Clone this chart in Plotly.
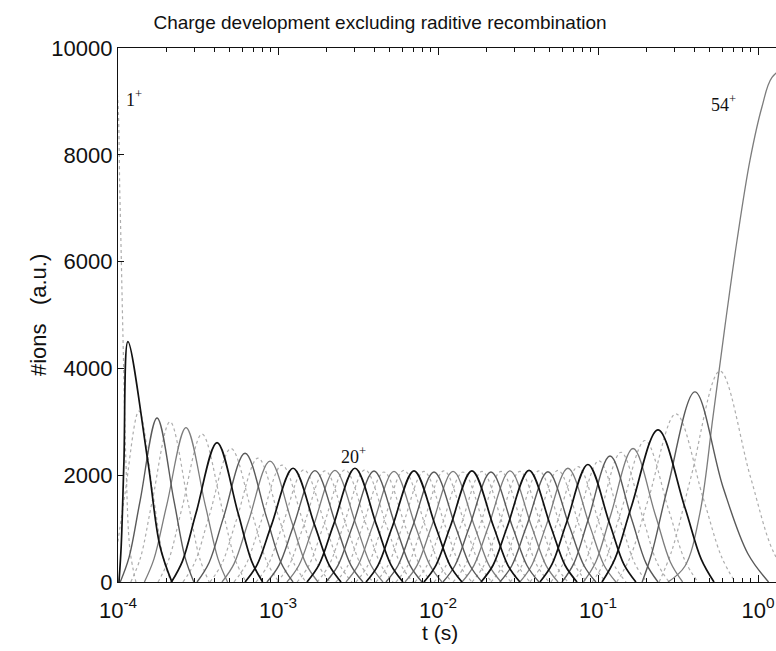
import plotly.graph_objects as go

# ---------------- data ----------------
# charge state 1+ : decaying curve at the far left (log10 t, ions)
q1_logt = [-4.04, -4.006, -3.988, -3.969, -3.95, -3.925, -3.888]
q1_ions = [9800, 9200, 7200, 4600, 2200, 600, 0]

# charge states 2+ .. 53+ : peaked curves
peak_logt = [-3.938, -3.869, -3.756, -3.675, -3.575, -3.475, -3.381, -3.294, -3.206, -3.125,
             -3.050, -2.975, -2.906, -2.838, -2.769, -2.706, -2.644, -2.581, -2.519, -2.456,
             -2.400, -2.338, -2.275, -2.213, -2.150, -2.088, -2.025, -1.963, -1.906, -1.844,
             -1.788, -1.725, -1.669, -1.606, -1.550, -1.488, -1.431, -1.369, -1.313, -1.250,
             -1.188, -1.125, -1.063, -0.994, -0.925, -0.856, -0.781, -0.706, -0.625, -0.513,
             -0.394, -0.238]
peak_ions = [4500, 3200, 3070, 3000, 2890, 2770, 2610, 2500, 2410, 2320, 2265, 2190,
             2130, 2100, 2085, 2080, 2090, 2100, 2130, 2100, 2080, 2060,
             2070, 2090, 2080, 2070, 2060, 2080, 2070, 2060, 2080, 2070,
             2060, 2070, 2080, 2070, 2090, 2080, 2065, 2090, 2130, 2160,
             2200, 2270, 2360, 2430, 2500, 2650, 2850, 3150, 3560, 3950]
# distance from the peak (decades) where a curve is at half its height
half_left = [0.025, 0.09, 0.105, 0.112, 0.12, 0.125, 0.13] + [0.135] * 39 + [0.14, 0.15, 0.165, 0.17, 0.17, 0.18]
half_right = [0.125, 0.09, 0.105, 0.112, 0.12, 0.125, 0.13] + [0.135] * 39 + [0.14, 0.15, 0.165, 0.17, 0.175, 0.19]
# distance from the peak (decades) where a curve is at ~15 % of its height
tail_left = [0.042, 0.15, 0.175, 0.185, 0.2, 0.208, 0.216] + [0.225] * 39 + [0.233, 0.25, 0.27, 0.285, 0.27, 0.3]
tail_right = [0.2, 0.15, 0.175, 0.185, 0.2, 0.208, 0.216] + [0.225] * 39 + [0.233, 0.25, 0.27, 0.285, 0.33, 0.33]
# distance from the peak (decades) where a curve reaches zero
foot_left = [0.056, 0.2, 0.23, 0.245, 0.26, 0.275, 0.285] + [0.3] * 39 + [0.31, 0.33, 0.35, 0.37, 0.33, 0.38]
foot_right = [0.275, 0.2, 0.23, 0.245, 0.26, 0.275, 0.285] + [0.3] * 39 + [0.31, 0.33, 0.35, 0.37, 0.46, 0.45]

# charge state 54+ : rising curve at the far right
q54_logt = [-0.5625, -0.456, -0.3625, -0.281, -0.206, -0.131, -0.05, 0.025, 0.0875, 0.2]
q54_ions = [0, 300, 1300, 3100, 4800, 6400, 7900, 8900, 9450, 9700]

x_tick_vals = [1e-4, 1e-3, 1e-2, 1e-1, 1]
x_tick_text = ["10<sup>-4</sup>", "10<sup>-3</sup>", "10<sup>-2</sup>", "10<sup>-1</sup>", "10<sup>0</sup>"]
y_tick_vals = [0, 2000, 4000, 6000, 8000, 10000]
y_tick_text = ["0", "2000", "4000", "6000", "8000", "10000"]

# ---------------- styles ----------------
style_codes = "l" + "klglml" * 8 + "klglm"   # one letter per charge state 1+..54+
STYLES = {
    "k": dict(color="#111111", width=1.7, dash="solid"),
    "g": dict(color="#595959", width=1.4, dash="solid"),
    "m": dict(color="#7c7c7c", width=1.3, dash="solid"),
    "l": dict(color="#adadad", width=1.2, dash="dot"),
}
DRAW_ORDER = ["l", "m", "g", "k"]

curves = []  # (charge, logt list, ions list)
curves.append((1, q1_logt, q1_ions))
for i, (p, h) in enumerate(zip(peak_logt, peak_ions)):
    xs = [p - foot_left[i], p - tail_left[i], p - half_left[i], p,
          p + half_right[i], p + tail_right[i], p + foot_right[i]]
    ys = [0, 0.15 * h, h / 2, h, h / 2, 0.15 * h, 0]
    curves.append((i + 2, xs, ys))
curves.append((54, q54_logt, q54_ions))

fig = go.Figure()
for cat in DRAW_ORDER:
    for q, xs, ys in curves:
        if style_codes[q - 1] != cat:
            continue
        st = STYLES[cat]
        fig.add_trace(go.Scatter(
            x=[10 ** v for v in xs], y=ys, mode="lines",
            line=dict(color=st["color"], width=st["width"], dash=st["dash"],
                      shape="spline", smoothing=1.0),
            showlegend=False, hoverinfo="skip"))

FONT = "Liberation Sans, Arial, sans-serif"
SERIF = "Liberation Serif, Times New Roman, serif"

minor_vals = [m * 10 ** e for e in range(-4, 1) for m in range(2, 10)]

fig.update_layout(
    width=776, height=651,
    margin=dict(l=118, r=0, t=48, b=69),
    paper_bgcolor="white", plot_bgcolor="white",
    font=dict(family=FONT, size=22, color="#111"),
    title=dict(text="Charge development excluding raditive recombination",
               x=380 / 776, xref="container", xanchor="center",
               y=1 - 22 / 651, yref="container", yanchor="middle",
               font=dict(family=FONT, size=19, color="#111")),
    xaxis=dict(type="log", range=[-4, 0.1125],
               tickvals=x_tick_vals, ticktext=x_tick_text,
               ticks="inside", ticklen=7, tickcolor="#111",
               showline=True, linecolor="#111", linewidth=1.3, mirror="ticks",
               showgrid=False, zeroline=False, ticklabelstandoff=8,
               minor=dict(tickvals=minor_vals, ticks="inside", ticklen=4, tickcolor="#111"),
               tickfont=dict(family=FONT, size=22, color="#111")),
    yaxis=dict(range=[0, 10000], tickvals=y_tick_vals, ticktext=y_tick_text,
               ticks="inside", ticklen=6, tickcolor="#111",
               showline=True, linecolor="#111", linewidth=1.3,
               showgrid=False, zeroline=False,
               tickfont=dict(family=FONT, size=22, color="#111")),
    annotations=[
        dict(text="#ions   (a.u.)", xref="paper", yref="paper", x=(38 - 118) / 658, y=0.5,
             textangle=-90, showarrow=False, xanchor="center", yanchor="middle",
             font=dict(family=FONT, size=22, color="#111")),
        dict(text="t (s)", xref="paper", yref="paper", x=(440 - 118) / 658, y=(582 - 632) / 534,
             showarrow=False, xanchor="center", yanchor="middle",
             font=dict(family=FONT, size=21, color="#111")),
        dict(text="1<sup>+</sup>", xref="paper", yref="paper", x=(134 - 118) / 658, y=(582 - 98) / 534,
             showarrow=False, xanchor="center", yanchor="middle",
             font=dict(family=SERIF, size=18, color="#111")),
        dict(text="20<sup>+</sup>", xref="paper", yref="paper", x=(353 - 118) / 658, y=(582 - 455) / 534,
             showarrow=False, xanchor="center", yanchor="middle",
             font=dict(family=SERIF, size=18, color="#111")),
        dict(text="54<sup>+</sup>", xref="paper", yref="paper", x=(723 - 118) / 658, y=(582 - 103) / 534,
             showarrow=False, xanchor="center", yanchor="middle",
             font=dict(family=SERIF, size=18, color="#111")),
    ],
)

fig.write_html("out.html", config={"displayModeBar": False},
               post_script="document.body.style.margin='0';")
